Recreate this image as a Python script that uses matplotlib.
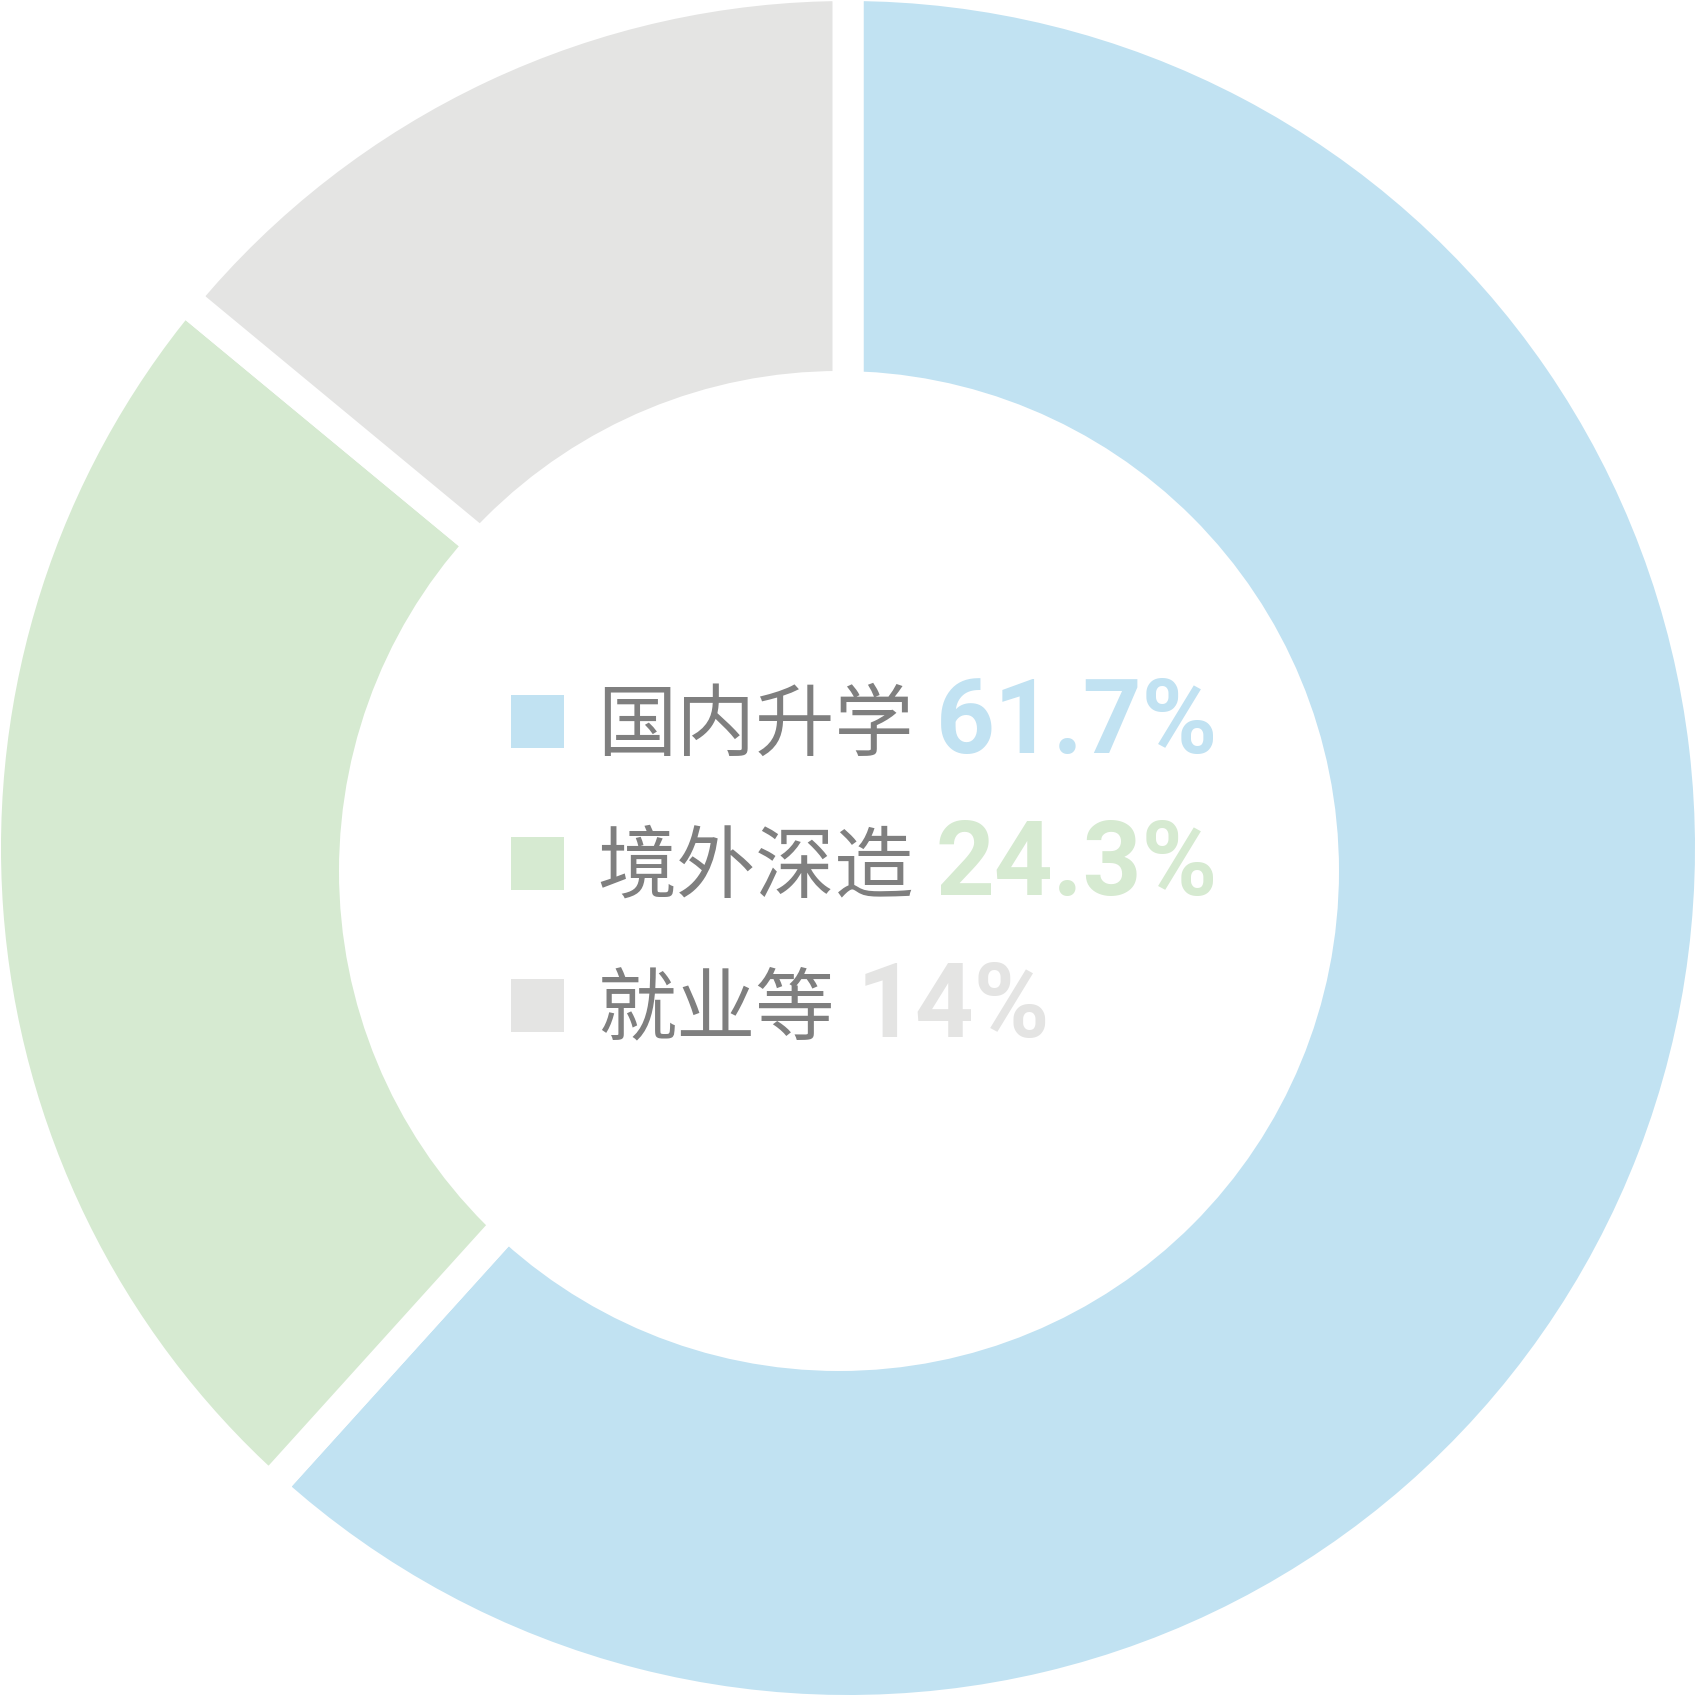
import matplotlib
matplotlib.use("Agg")
import matplotlib.pyplot as plt
from matplotlib.patches import Circle, Rectangle

categories = ["国内升学", "境外深造", "就业等"]
values = [61.7, 24.3, 14]
pct_labels = ["61.7%", "24.3%", "14%"]
colors = ["#C1E2F2", "#D6EAD1", "#E4E4E3"]

W, H = 1697, 1698
fig = plt.figure(figsize=(W / 100, H / 100), dpi=100)
ax = fig.add_axes([0, 0, 1, 1])

gap_px = 31
lw = gap_px * 72 / 100
outer_r = 847 + gap_px / 2
cx, cy = 848, H - 848

ax.pie(values, colors=colors, startangle=90, counterclock=False,
       radius=outer_r, center=(cx, cy),
       wedgeprops=dict(edgecolor="white", linewidth=lw, joinstyle="miter"))
ax.add_patch(Circle((839, H - 871), 500, facecolor="white", edgecolor="none", zorder=5))

ax.set_xlim(0, W)
ax.set_ylim(0, H)
ax.set_aspect("equal")
ax.axis("off")

rows_y = [721, 863, 1005]
sq = 53
text_color = "#7F7F7F"
fig.canvas.draw()
renderer = fig.canvas.get_renderer()
for i, (cat, pct, col) in enumerate(zip(categories, pct_labels, colors)):
    yc = H - rows_y[i]
    ax.add_patch(Rectangle((511, yc - sq / 2), sq, sq, facecolor=col, edgecolor="none", zorder=6))
    t = ax.text(597, yc - 6, cat, fontsize=57, color=text_color, va="center", ha="left",
                fontweight="medium",
                family=["Noto Sans CJK SC", "DejaVu Sans"], zorder=7)
    bb = t.get_window_extent(renderer=renderer)
    ax.text(bb.x1 + 22, yc - 32, pct, fontsize=74, color=col, va="baseline", ha="left",
            family=["Roboto", "DejaVu Sans"], fontweight="bold", zorder=7)

fig.savefig("out.png", dpi=100, facecolor="white")
